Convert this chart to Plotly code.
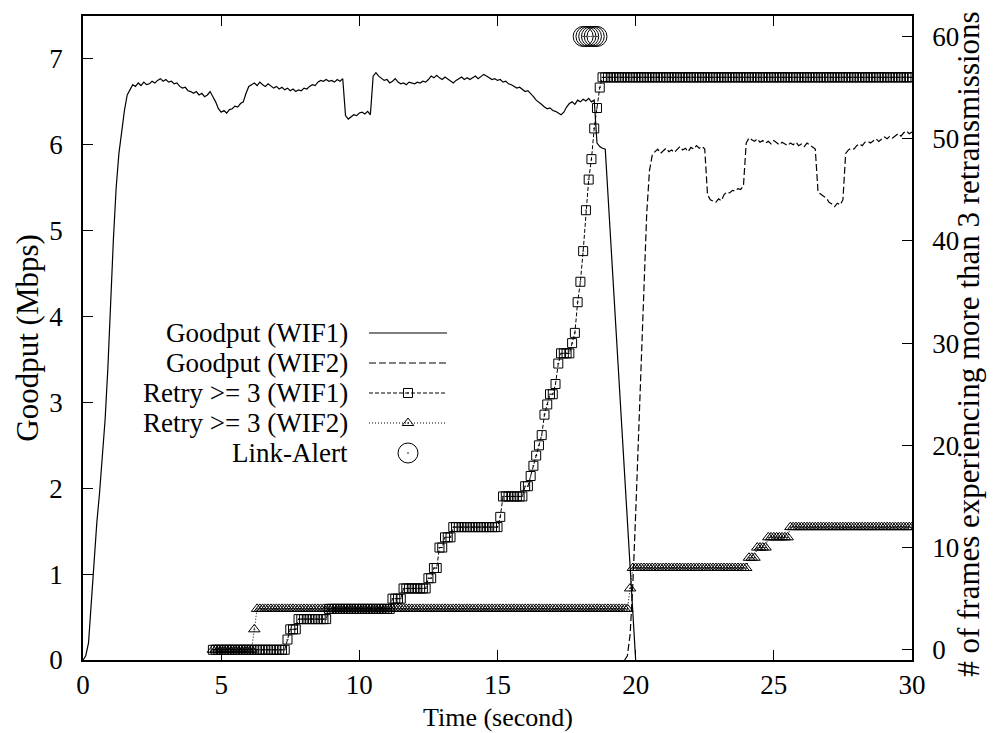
import numpy as np
import plotly.graph_objects as go

# ---- data -----------------------------------------------------------------
# Goodput of interface 1 (Mbps), every 0.1 s from 0 to 18.9 s,
# then the link collapse ending at 20 s
good1_t0, good1_dt = 0.0, 0.1
goodput_wif1 = [
    0.00, 0.05, 0.20, 0.70, 1.15, 1.60, 1.95, 2.35, 2.80, 3.40,
    4.20, 4.90, 5.50, 5.90, 6.15, 6.40, 6.58, 6.65, 6.70, 6.68,
    6.72, 6.69, 6.73, 6.70, 6.71, 6.74, 6.72, 6.75, 6.77, 6.74,
    6.76, 6.73, 6.74, 6.71, 6.72, 6.68, 6.66, 6.67, 6.63, 6.62,
    6.60, 6.62, 6.58, 6.60, 6.56, 6.58, 6.62, 6.56, 6.50, 6.42,
    6.38, 6.40, 6.37, 6.41, 6.42, 6.45, 6.44, 6.48, 6.50, 6.60,
    6.68, 6.70, 6.72, 6.69, 6.73, 6.70, 6.68, 6.71, 6.69, 6.66,
    6.68, 6.65, 6.67, 6.64, 6.66, 6.63, 6.65, 6.62, 6.64, 6.63,
    6.66, 6.65, 6.68, 6.70, 6.69, 6.73, 6.75, 6.74, 6.76, 6.74,
    6.75, 6.73, 6.76, 6.74, 6.77, 6.34, 6.30, 6.33, 6.35, 6.34,
    6.37, 6.38, 6.36, 6.39, 6.35, 6.80, 6.84, 6.80, 6.78, 6.75,
    6.76, 6.72, 6.74, 6.77, 6.73, 6.71, 6.72, 6.70, 6.73, 6.72,
    6.71, 6.73, 6.72, 6.74, 6.73, 6.76, 6.80, 6.78, 6.81, 6.78,
    6.76, 6.79, 6.77, 6.74, 6.72, 6.75, 6.77, 6.79, 6.76, 6.78,
    6.76, 6.78, 6.80, 6.77, 6.79, 6.82, 6.80, 6.78, 6.76, 6.77,
    6.75, 6.76, 6.73, 6.74, 6.71, 6.70, 6.68, 6.66, 6.67, 6.64,
    6.62, 6.63, 6.60, 6.56, 6.52, 6.50, 6.47, 6.44, 6.42, 6.43,
    6.40, 6.39, 6.37, 6.35, 6.38, 6.44, 6.48, 6.50, 6.47, 6.52,
    6.50, 6.53, 6.51, 6.54, 6.50, 6.52, 6.02, 5.98, 5.96, 5.95,
]
good1_end_t, good1_end_v = 20.0, 0.0

# Goodput of interface 2 (Mbps), every 0.1 s from 19.6 to 30 s
good2_t0, good2_dt = 19.6, 0.1
goodput_wif2 = [
    0.00, 0.05, 0.30, 0.90, 1.70, 2.60, 3.50, 4.40, 5.20, 5.70,
    5.88, 5.92, 5.95, 5.90, 5.93, 5.96, 5.92, 5.94, 5.91, 5.95,
    5.98, 5.94, 5.96, 5.92, 5.97, 5.95, 5.99, 5.96, 5.98, 5.95,
    5.42, 5.36, 5.34, 5.33, 5.37, 5.35, 5.42, 5.45, 5.44, 5.47,
    5.46, 5.49, 5.48, 5.52, 6.02, 6.08, 6.06, 6.04, 6.07, 6.03,
    6.05, 6.02, 6.04, 6.01, 6.05, 6.02, 6.00, 6.03, 6.01, 5.99,
    6.02, 6.00, 6.03, 5.99, 6.01, 5.98, 6.02, 6.00, 5.97, 5.95,
    5.45, 5.42, 5.40, 5.38, 5.33, 5.31, 5.28, 5.32, 5.30, 5.36,
    5.90, 5.94, 5.96, 5.95, 5.99, 6.01, 5.99, 6.03, 6.04, 6.02,
    6.05, 6.07, 6.04, 6.06, 6.09, 6.07, 6.10, 6.08, 6.11, 6.13,
    6.10, 6.14, 6.16, 6.13, 6.15,
]

# Frames needing >= 3 retries, sampled every 0.1 s from 4.7 to 30 s
retry_t0, retry_dt = 4.7, 0.1
retry_wif1 = (
    [0] * 27 + [1] + [2] * 3 + [3] * 11 + [4] * 23 + [5] * 4 + [6] * 9
    + [7] * 2 + [8] * 2 + [10] * 2 + [11] * 3 + [12] * 17 + [13] + [15] * 8
    + [16] * 2 + [17, 18, 19, 20, 21, 23, 24, 25, 25, 26, 28]
    + [29] * 4 + [30, 31, 34, 36, 39, 43, 46, 48, 51, 53, 55] + [56] * 113
)
retry_wif2 = (
    [0] * 15 + [2] + [4] * 135 + [6] + [8] * 42 + [9] * 3 + [10] * 4
    + [11] * 8 + [12] * 45
)

# Link-Alert events
alert_times = [18.1, 18.2, 18.3, 18.4, 18.5, 18.6]
alert_level = 60

x_ticks = [0, 5, 10, 15, 20, 25, 30]
y_ticks = [0, 1, 2, 3, 4, 5, 6, 7]
y2_ticks = [0, 10, 20, 30, 40, 50, 60]

legend_labels = ["Goodput (WIF1)", "Goodput (WIF2)", "Retry >= 3 (WIF1)",
                 "Retry >= 3 (WIF2)", "Link-Alert"]

# ---- helpers --------------------------------------------------------------
def times(t0, dt, n):
    return np.round(t0 + dt * np.arange(n), 2)

FONT = "Liberation Serif, Times New Roman, serif"
BLACK = "black"

fig = go.Figure()

g1_x = list(times(good1_t0, good1_dt, len(goodput_wif1))) + [good1_end_t]
g1_y = goodput_wif1 + [good1_end_v]
fig.add_trace(go.Scatter(
    x=g1_x, y=g1_y, mode="lines", line=dict(color=BLACK, width=1.2),
    xaxis="x", yaxis="y", showlegend=False))
fig.add_trace(go.Scatter(
    x=times(good2_t0, good2_dt, len(goodput_wif2)), y=goodput_wif2,
    mode="lines", line=dict(color=BLACK, width=1.2, dash="7px,3px"),
    xaxis="x", yaxis="y", showlegend=False))

fig.add_trace(go.Scatter(
    x=times(retry_t0, retry_dt, len(retry_wif1)), y=retry_wif1,
    mode="lines+markers",
    line=dict(color=BLACK, width=1, dash="4px,2px"),
    marker=dict(symbol="square-open-dot", size=9, color=BLACK,
                line=dict(width=1, color=BLACK)),
    xaxis="x", yaxis="y2", showlegend=False))
fig.add_trace(go.Scatter(
    x=times(retry_t0, retry_dt, len(retry_wif2)), y=retry_wif2,
    mode="lines+markers",
    line=dict(color=BLACK, width=1, dash="1px,2px"),
    marker=dict(symbol="triangle-up-open-dot", size=10, color=BLACK,
                line=dict(width=1, color=BLACK)),
    xaxis="x", yaxis="y2", showlegend=False))
fig.add_trace(go.Scatter(
    x=alert_times, y=[alert_level] * len(alert_times), mode="markers",
    marker=dict(symbol="circle-open-dot", size=20, color=BLACK,
                line=dict(width=1, color=BLACK)),
    xaxis="x", yaxis="y2", showlegend=False))

# ---- key (drawn on a pixel-scaled overlay axis) ---------------------------
key_rows = [333, 363, 393, 423, 453]
key_text_right = 350
key_line = (369, 447)
key_mark = 408
key_styles = [
    dict(line=dict(color=BLACK, width=1.2), marker=None),
    dict(line=dict(color=BLACK, width=1.2, dash="7px,3px"), marker=None),
    dict(line=dict(color=BLACK, width=1, dash="4px,2px"),
         marker=dict(symbol="square-open-dot", size=9, color=BLACK)),
    dict(line=dict(color=BLACK, width=1, dash="1px,2px"),
         marker=dict(symbol="triangle-up-open-dot", size=10, color=BLACK)),
    dict(line=None,
         marker=dict(symbol="circle-open-dot", size=20, color=BLACK)),
]
for row, label, st in zip(key_rows, legend_labels, key_styles):
    if st["line"] is not None:
        fig.add_trace(go.Scatter(x=list(key_line), y=[row, row], mode="lines",
                                 line=st["line"], xaxis="x3", yaxis="y3",
                                 showlegend=False, hoverinfo="skip"))
    if st["marker"] is not None:
        fig.add_trace(go.Scatter(x=[key_mark], y=[row], mode="markers",
                                 marker=st["marker"], xaxis="x3", yaxis="y3",
                                 showlegend=False, hoverinfo="skip"))
    fig.add_annotation(x=key_text_right, y=row, xref="x3", yref="y3",
                       text=label, showarrow=False, xanchor="right",
                       yanchor="middle", font=dict(family=FONT, size=27,
                                                   color=BLACK))

axis_common = dict(showgrid=False, zeroline=False, showline=True,
                   linecolor=BLACK, linewidth=1.5, ticks="inside", ticklen=10,
                   tickwidth=1.2, tickcolor=BLACK,
                   tickfont=dict(family=FONT, size=27, color=BLACK))

fig.update_layout(
    width=1007, height=733,
    margin=dict(l=83, r=95, t=16, b=73),
    paper_bgcolor="white", plot_bgcolor="white",
    xaxis=dict(range=[0, 30], tickvals=x_ticks, mirror="ticks",
               ticklabelstandoff=0, **axis_common),
    yaxis=dict(range=[0, 7.5], tickvals=y_ticks, mirror=True,
               ticklabelstandoff=13, **axis_common),
    yaxis2=dict(range=[-1, 62], tickvals=y2_ticks, overlaying="y",
                side="right", ticklabelstandoff=13, **axis_common),
    xaxis3=dict(range=[83, 912], overlaying="x", visible=False,
                fixedrange=True),
    yaxis3=dict(range=[660, 16], overlaying="y", visible=False,
                anchor="x3", fixedrange=True),
    showlegend=False,
)

# axis titles
fig.add_annotation(x=0.5, y=0, xref="paper", yref="paper",
                   text="Time (second)", showarrow=False, xanchor="center",
                   yanchor="bottom", yshift=-74,
                   font=dict(family=FONT, size=26, color=BLACK))
fig.add_annotation(x=-0.068, y=0.5, xref="paper", yref="paper",
                   text="Goodput (Mbps)", textangle=-90, showarrow=False,
                   xanchor="center", yanchor="middle",
                   font=dict(family=FONT, size=31, color=BLACK))
fig.add_annotation(x=1.068, y=0.49, xref="paper", yref="paper",
                   text="# of frames experiencing more than 3 retransmissions",
                   textangle=-90, showarrow=False, xanchor="center",
                   yanchor="middle",
                   font=dict(family=FONT, size=31, color=BLACK))

fig.write_html("out.html")
